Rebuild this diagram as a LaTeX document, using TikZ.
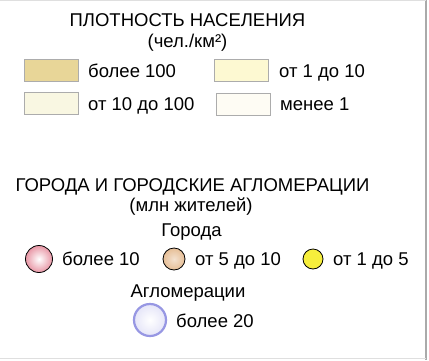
\documentclass[tikz,border=0pt]{standalone}
\usepackage{fontspec}
\setmainfont{Liberation Sans}
\definecolor{swA}{RGB}{232,214,152}
\definecolor{swB}{RGB}{253,249,210}
\definecolor{swC}{RGB}{249,247,226}
\definecolor{swD}{RGB}{254,252,244}
\definecolor{pinkc}{RGB}{232,150,165}
\definecolor{peachc}{RGB}{230,190,150}
\definecolor{yelc}{RGB}{246,238,60}
\definecolor{bluec}{RGB}{125,125,220}
\definecolor{frame}{RGB}{170,170,170}
\begin{document}
\begin{tikzpicture}[x=1pt,y=-1pt,
  swatch/.style={draw=gray!65, minimum width=54pt, minimum height=22pt, inner sep=0pt},
  lbl/.style={anchor=base west, inner sep=0pt, font=\fontsize{18.5}{20}\selectfont},
  hdr/.style={anchor=base, inner sep=0pt, font=\fontsize{18.5}{20}\selectfont},
  city/.style={circle, draw=black, line width=0.8pt, inner sep=0pt}]
\useasboundingbox (0,0) rectangle (429,360);
\fill[white] (0,0) rectangle (429,360);
\draw[frame, line width=1.5pt] (426,0) -- (426,360);
\draw[gray!25, line width=0.8pt] (0,0.5) -- (426,0.5);
\draw[gray!25, line width=0.8pt] (0,358.5) -- (426,358.5);
% density
\node[hdr] (t1) at (187.5,26) {ПЛОТНОСТЬ НАСЕЛЕНИЯ};
\node[hdr] (t1b) at (187.5,47) {(чел./км²)};
\node[swatch, fill=swA] (s1) at (51,70) {};
\node[lbl] (l1) at (88,77) {более 100};
\node[swatch, fill=swB] (s2) at (241,70) {};
\node[lbl] (l2) at (279,77) {от 1 до 10};
\node[swatch, fill=swC] (s3) at (51,103.5) {};
\node[lbl] (l3) at (88,110) {от 10 до 100};
\node[swatch, fill=swD] (s4) at (243,104) {};
\node[lbl] (l4) at (280,110) {менее 1};
% cities
\node[hdr] (t2) at (192.5,191) {ГОРОДА И ГОРОДСКИЕ АГЛОМЕРАЦИИ};
\node[hdr] (t2b) at (191,211) {(млн жителей)};
\node[hdr] (t3) at (191.5,236) {Города};
\node[city, minimum size=27pt, inner color=white, outer color=pinkc] (c1) at (39,259) {};
\node[lbl] (cl1) at (62,265.5) {более 10};
\node[city, minimum size=22pt, inner color=peachc!45, outer color=peachc] (c2) at (174,259) {};
\node[lbl] (cl2) at (195,265.5) {от 5 до 10};
\node[city, minimum size=20pt, fill=yelc] (c3) at (313,259) {};
\node[lbl] (cl3) at (333,265.5) {от 1 до 5};
\node[hdr] (t4) at (188,297) {Агломерации};
\node[circle, minimum size=32pt, inner sep=0pt, draw=bluec!80, line width=2.2pt, inner color=white, outer color=bluec!20] (c4) at (150,320) {};
\node[lbl] (cl4) at (176,327) {более 20};
\end{tikzpicture}
\end{document}
